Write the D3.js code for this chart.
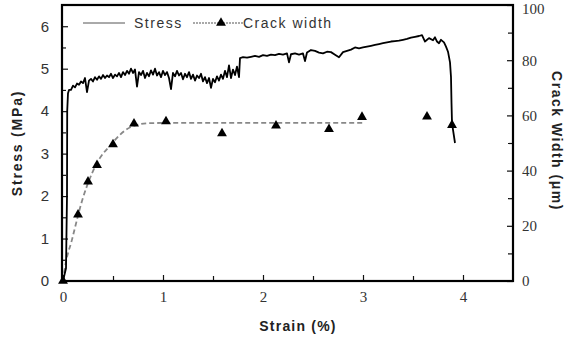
<!DOCTYPE html>
<html>
<head>
<meta charset="utf-8">
<script src="https://cdn.jsdelivr.net/npm/d3@7"></script>
<style>
  body { margin: 0; background: #fff; }
  svg { display: block; }
</style>
</head>
<body>
<svg id="chart" width="564" height="341"></svg>
<script>
// stress-strain record (strain %, stress MPa)
var stressStrain = [0, 0.03, 0.04, 0.042, 0.05, 0.06, 0.08, 0.10, 0.12, 0.14, 0.16, 0.18, 0.20, 0.22, 0.24, 0.26, 0.28, 0.30,
    0.32, 0.34, 0.36, 0.38, 0.40, 0.42, 0.44, 0.46, 0.48, 0.50, 0.52, 0.54, 0.56, 0.58, 0.60, 0.62, 0.64, 0.66,
    0.68, 0.70, 0.72, 0.74, 0.76, 0.78, 0.80, 0.82, 0.84, 0.86, 0.88, 0.90, 0.92, 0.94, 0.96, 0.98, 1.00, 1.02,
    1.04, 1.06, 1.08, 1.10, 1.12, 1.14, 1.16, 1.18, 1.20, 1.22, 1.24, 1.26, 1.28, 1.30, 1.32, 1.34, 1.36, 1.38,
    1.40, 1.42, 1.44, 1.46, 1.48, 1.50, 1.52, 1.54, 1.56, 1.58, 1.60, 1.62, 1.64, 1.66, 1.68, 1.70, 1.72, 1.74,
    1.76, 1.77, 1.80, 1.84, 1.88, 1.92, 1.96, 2.00, 2.04, 2.08, 2.12, 2.16, 2.20, 2.24, 2.26, 2.28, 2.32, 2.36,
    2.40, 2.42, 2.44, 2.48, 2.52, 2.56, 2.60, 2.64, 2.68, 2.72, 2.76, 2.80, 2.84, 2.88, 2.92, 2.96, 3.00, 3.04,
    3.08, 3.12, 3.16, 3.20, 3.24, 3.28, 3.32, 3.36, 3.40, 3.44, 3.48, 3.52, 3.56, 3.59, 3.62, 3.66, 3.70, 3.72,
    3.74, 3.76, 3.78, 3.81, 3.83, 3.85, 3.87, 3.88, 3.885, 3.89, 3.92];
var stressValues = [0, 0.3, 2.0, 4.0, 4.42, 4.5, 4.5, 4.6, 4.56, 4.65, 4.62, 4.7, 4.66, 4.78, 4.45, 4.72, 4.76, 4.7,
    4.8, 4.74, 4.82, 4.76, 4.85, 4.78, 4.84, 4.8, 4.88, 4.78, 4.86, 4.82, 4.9, 4.8, 4.92, 4.85, 4.95, 4.88,
    5.0, 4.9, 4.98, 4.58, 4.92, 4.85, 4.95, 4.78, 4.9, 4.82, 4.96, 4.86, 5.0, 4.84, 4.92, 4.8, 4.95, 4.85,
    4.92, 4.78, 4.52, 4.9, 4.82, 4.95, 4.84, 4.9, 4.75, 4.88, 4.8, 4.92, 4.76, 4.86, 4.72, 4.84, 4.78, 4.88,
    4.7, 4.8, 4.66, 4.78, 4.55, 4.76, 4.68, 4.82, 4.72, 4.86, 4.76, 4.95, 4.8, 5.08, 4.78, 4.98, 4.85, 5.05,
    4.8, 5.25, 5.27, 5.26, 5.28, 5.3, 5.28, 5.32, 5.3, 5.33, 5.32, 5.35, 5.33, 5.36, 5.15, 5.34, 5.36, 5.33,
    5.36, 5.18, 5.38, 5.44, 5.42, 5.38, 5.36, 5.4, 5.39, 5.33, 5.27, 5.39, 5.42, 5.45, 5.5, 5.48, 5.5, 5.52,
    5.54, 5.56, 5.58, 5.6, 5.62, 5.64, 5.65, 5.66, 5.68, 5.7, 5.73, 5.75, 5.77, 5.79, 5.64, 5.72, 5.67, 5.74,
    5.64, 5.6, 5.68, 5.62, 5.52, 5.4, 5.15, 4.8, 4.2, 3.72, 3.25];

// crack width measurements (strain %, width um)
var crackStrain = [0, 0.15, 0.25, 0.34, 0.50, 0.71, 1.03, 1.59, 2.13, 2.66, 2.99, 3.64, 3.89];
var crackWidth = [0, 24, 36, 42, 49.5, 57, 57.8, 53.5, 56.3, 55, 59.4, 59.5, 56.5];

// dashed trend through the crack widths
var trendStrain = [0, 0.02, 0.09, 0.19, 0.29, 0.37, 0.47, 0.57, 0.69, 0.87, 1.2, 3.0];
var trendWidth = [0, 5, 15, 29, 39, 44.6, 49, 53, 56, 57.2, 57.3, 57.3];

var strainTicks = [0, 1, 2, 3, 4];
var stressTicks = [0, 1, 2, 3, 4, 5, 6];
var widthTicks = [0, 20, 40, 60, 80, 100];

var svg = d3.select("#chart");
var plotLeft = 62, plotRight = 513, plotTop = 5, plotBottom = 281;

var x = d3.scaleLinear().domain([0, 4.5]).range([plotLeft + 1, plotRight]);
var y = d3.scaleLinear().domain([0, 6.5]).range([plotBottom, plotTop]);
var y2 = d3.scaleLinear().domain([0, 100]).range([plotBottom, plotTop]);
var fmt = d3.format("d");

// minor ticks first
svg.append("g")
    .attr("transform", "translate(" + plotLeft + ",0)")
    .call(d3.axisLeft(y).tickValues(d3.range(0.5, 6.5, 1)).tickSize(-4).tickFormat(""));
svg.append("g")
    .attr("transform", "translate(0," + plotBottom + ")")
    .call(d3.axisBottom(x).tickValues([0.5, 1.5, 2.5, 3.5]).tickSize(-5).tickFormat(""));
svg.append("g")
    .attr("transform", "translate(" + plotRight + ",0)")
    .call(d3.axisRight(y2).tickValues([10, 30, 50, 70, 90]).tickSize(-5).tickFormat(""));

var yAxis = svg.append("g")
    .attr("transform", "translate(" + plotLeft + ",0)")
    .call(d3.axisLeft(y).tickValues(stressTicks).tickSize(-6).tickPadding(13).tickFormat(fmt));
yAxis.selectAll("text")
    .style("font-family", "'Liberation Sans', Arial, sans-serif")
    .style("font-size", "15px")
    .attr("fill", "#333");

var xAxis = svg.append("g")
    .attr("transform", "translate(0," + plotBottom + ")")
    .call(d3.axisBottom(x).tickValues(strainTicks).tickSize(-6).tickPadding(10).tickFormat(fmt));
xAxis.selectAll("text")
    .style("font-family", "'Liberation Serif', 'Times New Roman', serif")
    .style("font-size", "15px")
    .attr("fill", "#333");

var y2Axis = svg.append("g")
    .attr("transform", "translate(" + plotRight + ",0)")
    .call(d3.axisRight(y2).tickValues(widthTicks).tickSize(-6).tickPadding(9).tickFormat(fmt));
y2Axis.selectAll("text")
    .style("font-family", "'Liberation Serif', 'Times New Roman', serif")
    .style("font-size", "15px")
    .attr("fill", "#333")
    .attr("y", function(d) { return d === 100 ? 4 : 0; });

svg.selectAll(".domain").remove();
svg.selectAll(".tick line").attr("stroke", "#111").attr("stroke-width", 1.2);

// crack width trend
var trendLine = d3.line()
    .x(function(d, i) { return x(trendStrain[i]); })
    .y(function(d) { return y2(d); })
    .curve(d3.curveMonotoneX);
svg.append("path")
    .datum(trendWidth)
    .attr("d", trendLine)
    .attr("fill", "none")
    .attr("stroke", "#888")
    .attr("stroke-width", 1.8)
    .attr("stroke-dasharray", "5,3");

// stress curve
var stressLine = d3.line()
    .x(function(d, i) { return x(stressStrain[i]); })
    .y(function(d) { return y(d); });
svg.append("path")
    .datum(stressValues)
    .attr("d", stressLine)
    .attr("fill", "none")
    .attr("stroke", "#000")
    .attr("stroke-width", 1.8)
    .attr("stroke-linejoin", "round");

// crack width markers
var tri = d3.symbol().type(d3.symbolTriangle).size(42);
svg.selectAll(".mark")
    .data(crackWidth)
    .enter().append("path")
    .attr("class", "mark")
    .attr("d", tri)
    .attr("transform", function(d, i) { return "translate(" + x(crackStrain[i]) + "," + y2(d) + ")"; })
    .attr("fill", "#000");

// frame
svg.append("rect")
    .attr("x", plotLeft).attr("y", plotTop)
    .attr("width", plotRight - plotLeft).attr("height", plotBottom - plotTop)
    .attr("fill", "none")
    .attr("stroke", "#000")
    .attr("stroke-width", 2.2);

// legend
var legend = svg.append("g")
    .style("font-family", "'Liberation Sans', Arial, sans-serif")
    .style("font-size", "14px")
    .style("letter-spacing", "1.5px");
legend.append("line").attr("x1", 83).attr("x2", 125).attr("y1", 23).attr("y2", 23)
    .attr("stroke", "#555").attr("stroke-width", 1);
legend.append("text").attr("x", 134).attr("y", 28).attr("fill", "#333").text("Stress");
legend.append("line").attr("x1", 193).attr("x2", 243).attr("y1", 23).attr("y2", 23)
    .attr("stroke", "#555").attr("stroke-width", 1.2).attr("stroke-dasharray", "2,1");
legend.append("path").attr("d", tri).attr("transform", "translate(221,23)").attr("fill", "#000");
legend.append("text").attr("x", 243).attr("y", 28).attr("fill", "#333").text("Crack width");

// axis titles
var titleFont = "'Liberation Sans', Arial, sans-serif";
svg.append("text")
    .attr("x", 298).attr("y", 331)
    .attr("text-anchor", "middle")
    .style("font-family", titleFont).style("font-size", "14px").style("font-weight", "bold")
    .style("letter-spacing", "1.2px")
    .attr("fill", "#222")
    .text("Strain (%)");
svg.append("text")
    .attr("transform", "translate(22,143) rotate(-90)")
    .attr("text-anchor", "middle")
    .style("font-family", titleFont).style("font-size", "14px").style("font-weight", "bold")
    .style("letter-spacing", "1.8px")
    .attr("fill", "#222")
    .text("Stress (MPa)");
svg.append("text")
    .attr("transform", "translate(552,141) rotate(90)")
    .attr("text-anchor", "middle")
    .style("font-family", titleFont).style("font-size", "14px").style("font-weight", "bold")
    .style("letter-spacing", "1.5px")
    .attr("fill", "#222")
    .text("Crack Width (μm)");
</script>
</body>
</html>
